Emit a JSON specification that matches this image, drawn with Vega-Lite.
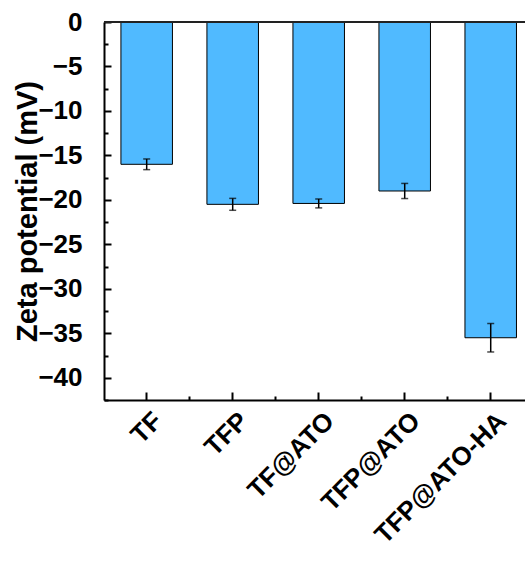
{
  "$schema": "https://vega.github.io/schema/vega-lite/v6.json",
  "width": 421,
  "height": 378,
  "autosize": {"type": "none"},
  "padding": {"left": 104, "top": 22, "right": 0, "bottom": 161},
  "background": "white",
  "config": {
    "view": {"stroke": null},
    "font": "Liberation Sans",
    "axis": {
      "grid": false,
      "labelFont": "Liberation Sans",
      "labelFontWeight": "bold",
      "labelColor": "black",
      "titleFont": "Liberation Sans",
      "titleFontWeight": "bold",
      "titleColor": "black",
      "domainColor": "black",
      "tickColor": "black",
      "domainWidth": 2,
      "tickWidth": 2
    }
  },
  "data": {
    "values": [
      {"sample": "TF", "mean": -16.0, "err": 0.6},
      {"sample": "TFP", "mean": -20.5, "err": 0.67},
      {"sample": "TF@ATO", "mean": -20.4, "err": 0.5},
      {"sample": "TFP@ATO", "mean": -19.0, "err": 0.85},
      {"sample": "TFP@ATO-HA", "mean": -35.5, "err": 1.6}
    ]
  },
  "layer": [
    {
      "mark": {"type": "bar", "fill": "#50BAFF", "stroke": "black", "strokeWidth": 1},
      "encoding": {
        "x": {
          "field": "sample", "type": "nominal", "sort": null,
          "scale": {"paddingInner": 0.401, "paddingOuter": 0.148, "align": 0.665},
          "axis": {"title": null, "orient": "bottom", "labels": false, "tickSize": -8}
        },
        "y": {
          "field": "mean", "type": "quantitative",
          "scale": {"domain": [-42.5, 0], "nice": false},
          "axis": {
            "orient": "left",
            "values": [0, -5, -10, -15, -20, -25, -30, -35, -40],
            "tickSize": -7, "labelPadding": 29, "labelFontSize": 26, "labelBaseline": "middle",
            "labelFlush": false, "labelOverlap": false,
            "title": "Zeta potential (mV)", "titleFontSize": 29,
            "titleX": -77, "titleY": 189, "titleAngle": -90, "titleAlign": "center", "titleBaseline": "middle"
          }
        }
      }
    },
    {
      "mark": {"type": "errorbar", "color": "black", "thickness": 1.5, "ticks": {"size": 7, "thickness": 1.5, "color": "black"}},
      "encoding": {
        "x": {"field": "sample", "type": "nominal", "sort": null, "axis": null},
        "y": {"field": "mean", "type": "quantitative", "axis": null},
        "yError": {"field": "err"}
      }
    },
    {
      "mark": {"type": "rule", "color": "#222222", "strokeWidth": 2},
      "encoding": {"y": {"datum": 0, "axis": null}}
    },
    {
      "mark": {"type": "text", "angle": 315, "align": "right", "baseline": "middle", "dx": -4, "dy": 20,
        "font": "Liberation Sans", "fontWeight": "bold", "fontSize": 26, "color": "black"},
      "encoding": {
        "x": {"field": "sample", "type": "nominal", "sort": null, "axis": null},
        "y": {"datum": -42.5, "axis": null},
        "text": {"field": "sample"}
      }
    },
    {
      "mark": {"type": "point", "opacity": 0},
      "encoding": {
        "x": {
          "field": "sample", "type": "nominal", "sort": null,
          "axis": {"orient": "bottom", "title": null, "labels": false, "domain": false, "tickSize": -4, "bandPosition": 1.335}
        },
        "y": {
          "field": "mean", "type": "quantitative",
          "axis": {"orient": "left", "title": null, "labels": false, "domain": false, "tickSize": -4,
            "values": [-2.5, -7.5, -12.5, -17.5, -22.5, -27.5, -32.5, -37.5, -42.5]}
        }
      }
    }
  ],
  "resolve": {"axis": {"x": "independent", "y": "independent"}}
}
